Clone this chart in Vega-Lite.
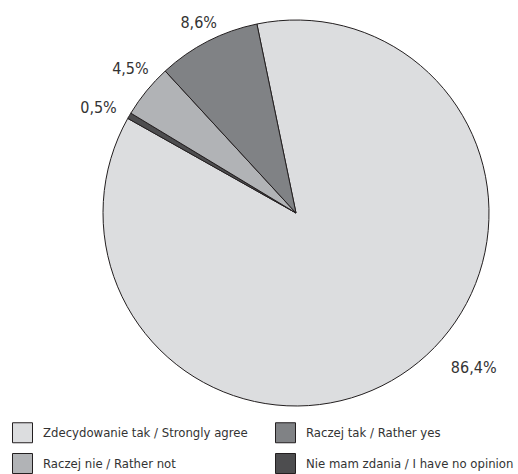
{
  "$schema": "https://vega.github.io/schema/vega-lite/v6.json",
  "width": 444,
  "height": 426,
  "autosize": {"type": "none"},
  "padding": {"left": 74, "top": 0, "right": 0, "bottom": 48},
  "background": "white",
  "config": {"view": {"stroke": null}},
  "data": {
    "values": [
      {"category": "Zdecydowanie tak / Strongly agree", "value": 86.4, "label": "86,4%", "order": 1},
      {"category": "Nie mam zdania / I have no opinion", "value": 0.5, "label": "0,5%", "order": 2},
      {"category": "Raczej nie / Rather not", "value": 4.5, "label": "4,5%", "order": 3},
      {"category": "Raczej tak / Rather yes", "value": 8.6, "label": "8,6%", "order": 4}
    ]
  },
  "encoding": {
    "theta": {"field": "value", "type": "quantitative", "stack": true, "scale": {"range": [-0.204, 6.0792]}},
    "order": {"field": "order", "type": "quantitative"}
  },
  "layer": [
    {
      "mark": {"type": "arc", "radius": 193, "stroke": "#231f20", "strokeWidth": 1},
      "encoding": {
        "color": {
          "field": "category",
          "type": "nominal",
          "scale": {
            "domain": ["Zdecydowanie tak / Strongly agree", "Raczej tak / Rather yes", "Raczej nie / Rather not", "Nie mam zdania / I have no opinion"],
            "range": ["#dcdddf", "#808285", "#b1b3b6", "#4d4d4f"]
          },
          "legend": {
            "title": null,
            "orient": "none",
            "legendX": -62,
            "legendY": 422,
            "direction": "horizontal",
            "columns": 2,
            "symbolType": "square",
            "symbolSize": 400,
            "symbolStrokeColor": "#231f20",
            "symbolStrokeWidth": 1,
            "labelOffset": 10,
            "columnPadding": 25,
            "rowPadding": 6,
            "labelFont": "DejaVu Sans Condensed",
            "labelFontSize": 13,
            "labelColor": "#333333",
            "labelLimit": 400
          }
        }
      }
    },
    {
      "mark": {"type": "text", "radius": 213, "font": "DejaVu Sans Condensed", "fontSize": 16, "fill": "#333333"},
      "encoding": {
        "text": {"condition": {"test": "datum.label == '8,6%'", "field": "label"}, "value": ""}
      }
    },
    {
      "mark": {"type": "text", "radius": 219, "dx": 4, "dy": -5, "font": "DejaVu Sans Condensed", "fontSize": 16, "fill": "#333333"},
      "encoding": {
        "text": {"condition": {"test": "datum.label == '4,5%'", "field": "label"}, "value": ""}
      }
    },
    {
      "mark": {"type": "text", "radius": 224, "dx": -4, "dy": 8, "font": "DejaVu Sans Condensed", "fontSize": 16, "fill": "#333333"},
      "encoding": {
        "text": {"condition": {"test": "datum.label == '0,5%'", "field": "label"}, "value": ""}
      }
    },
    {
      "mark": {"type": "text", "radius": 213, "dx": 52, "dy": -17, "font": "DejaVu Sans Condensed", "fontSize": 16, "fill": "#333333"},
      "encoding": {
        "text": {"condition": {"test": "datum.label == '86,4%'", "field": "label"}, "value": ""}
      }
    }
  ]
}
